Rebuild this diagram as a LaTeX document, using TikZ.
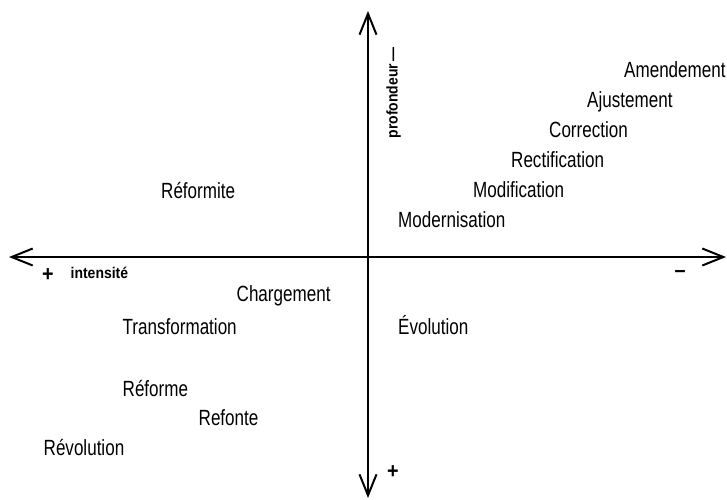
\documentclass[tikz,border=0pt]{standalone}
\usepackage{fontspec}
\setmainfont{Liberation Sans}[FakeStretch=0.775]
\newfontfamily\lblfont{Liberation Sans}[FakeStretch=0.9]
\usetikzlibrary{arrows.meta}
\begin{document}
\begin{tikzpicture}[x=1pt,y=-1pt,
  term/.style={anchor=base west, inner sep=0pt, font=\fontsize{22}{24}\selectfont, text=black},
  lbl/.style={anchor=base west, inner sep=0pt, font=\lblfont\bfseries\fontsize{15.5}{17}\selectfont, text=black},
  sign/.style={anchor=center, inner sep=0pt, font=\lblfont\bfseries\fontsize{22}{24}\selectfont, text=black},
  axis/.style={line width=2pt, {Straight Barb[length=21pt,width=17pt]}-{Straight Barb[length=21pt,width=17pt]}}]
\useasboundingbox (0,0) rectangle (727,499);
\coordinate (W) at (9,257);
\coordinate (E) at (726,257);
\coordinate (N) at (368,11);
\coordinate (S) at (368,498);
\draw[axis] (W) -- (E);
\draw[axis] (N) -- (S);
% axis labels
\node[lbl, rotate=90] (prof) at (397.5,138.5) {profondeur\hspace{2pt}—};
\node[sign] (plusL) at (48,275) {+};
\node[lbl] (int) at (70.5,278.5) {intensité};
\node[sign] (minusR) at (680,273.5) {–};
\node[sign] (plusB) at (393,472) {+};
% terms
\node[term] (amend) at (624,77) {Amendement};
\node[term] (ajust) at (587,107) {Ajustement};
\node[term] (corr) at (549,137) {Correction};
\node[term] (rect) at (511,167) {Rectification};
\node[term] (modif) at (473,197.5) {Modification};
\node[term] (modern) at (398,227.5) {Modernisation};
\node[term] (refite) at (161,198) {Réformite};
\node[term] (charg) at (236.5,301) {Chargement};
\node[term] (transf) at (122.5,334) {Transformation};
\node[term] (evol) at (398,334) {Évolution};
\node[term] (reforme) at (122.5,396) {Réforme};
\node[term] (refonte) at (198.5,425) {Refonte};
\node[term] (revol) at (43.5,455) {Révolution};
\end{tikzpicture}
\end{document}
